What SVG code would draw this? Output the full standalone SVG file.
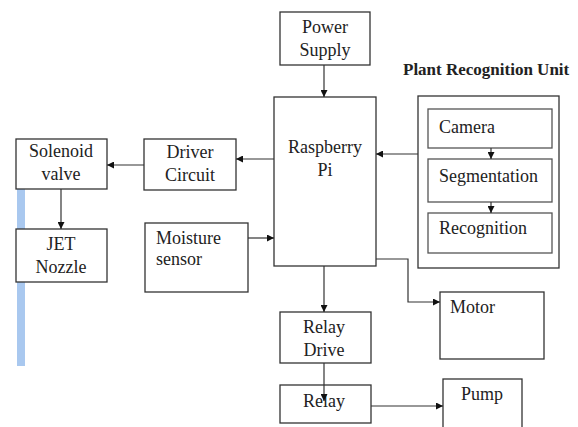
<svg xmlns="http://www.w3.org/2000/svg" width="578" height="427" viewBox="0 0 578 427">
<defs>
<marker id="ah" viewBox="0 0 10 10" refX="10" refY="5" markerWidth="7" markerHeight="7" markerUnits="userSpaceOnUse" orient="auto">
<path d="M0,0 L10,5 L0,10 z" fill="#111"/>
</marker>
</defs>
<style>
.box{fill:#fff;stroke:#333;stroke-width:1.3}
.t{font-family:'Liberation Serif','Times New Roman',Times,serif;font-size:18px;fill:#222}
.c{text-anchor:middle}
.ln{fill:none;stroke:#333;stroke-width:1.2}
.ttl{font-family:'Liberation Serif','Times New Roman',Times,serif;font-size:17px;font-weight:bold;fill:#222}
</style>
<rect x="0" y="0" width="578" height="427" fill="#fff"/>
<rect x="17" y="189" width="8" height="177" fill="#a9c8ef"/>

<g id="power-supply">
<rect class="box" x="280" y="12" width="90" height="53"/>
<text class="t c" x="325" y="33">Power</text>
<text class="t c" x="325" y="56">Supply</text>
</g>

<g id="raspberry-pi">
<rect class="box" x="274" y="97" width="102" height="169"/>
<text class="t c" x="325" y="153">Raspberry</text>
<text class="t c" x="325" y="176">Pi</text>
</g>

<g id="plant-recognition-unit">
<text class="ttl" x="403" y="75">Plant Recognition Unit</text>
<rect class="box" x="418" y="96" width="141" height="172" style="fill:none"/>
</g>

<g id="camera">
<rect class="box" x="428" y="109" width="124" height="39" style="stroke:#555"/>
<text class="t" x="439" y="133">Camera</text>
</g>

<g id="segmentation">
<rect class="box" x="428" y="159" width="124" height="43" style="stroke:#555"/>
<text class="t" x="439" y="182">Segmentation</text>
</g>

<g id="recognition">
<rect class="box" x="428" y="213" width="124" height="40" style="stroke:#555"/>
<text class="t" x="439" y="234">Recognition</text>
</g>

<g id="driver-circuit">
<rect class="box" x="144" y="139" width="92" height="51"/>
<text class="t c" x="190" y="158">Driver</text>
<text class="t c" x="190" y="181">Circuit</text>
</g>

<g id="solenoid-valve">
<rect class="box" x="16" y="139" width="91" height="50"/>
<text class="t c" x="61" y="157">Solenoid</text>
<text class="t c" x="61" y="180">valve</text>
</g>

<g id="jet-nozzle">
<rect class="box" x="16" y="229" width="91" height="53"/>
<text class="t c" x="61" y="250">JET</text>
<text class="t c" x="61" y="273">Nozzle</text>
</g>

<g id="moisture-sensor">
<rect class="box" x="145" y="223" width="103" height="69"/>
<text class="t" x="156" y="244">Moisture</text>
<text class="t" x="156" y="265">sensor</text>
</g>

<g id="motor">
<rect class="box" x="440" y="292" width="104" height="67"/>
<text class="t" x="450" y="313">Motor</text>
</g>

<g id="relay-drive">
<rect class="box" x="280" y="312" width="91" height="51"/>
<text class="t c" x="324" y="333">Relay</text>
<text class="t c" x="324" y="356">Drive</text>
</g>

<g id="relay">
<rect class="box" x="280" y="385" width="91" height="38"/>
<text class="t c" x="324" y="407">Relay</text>
</g>

<g id="pump">
<rect class="box" x="443" y="379" width="79" height="60"/>
<text class="t c" x="482" y="400">Pump</text>
</g>

<g id="connectors">
<line class="ln" x1="324" y1="65" x2="324" y2="97" marker-end="url(#ah)"/>
<line class="ln" x1="418" y1="154" x2="376" y2="154" marker-end="url(#ah)"/>
<line class="ln" x1="274" y1="159" x2="236" y2="159" marker-end="url(#ah)"/>
<line class="ln" x1="144" y1="165" x2="107" y2="165" marker-end="url(#ah)"/>
<line class="ln" x1="61" y1="189" x2="61" y2="229" marker-end="url(#ah)"/>
<line class="ln" x1="248" y1="238" x2="274" y2="238" marker-end="url(#ah)"/>
<polyline class="ln" points="376,259 408,259 408,302 440,302" marker-end="url(#ah)"/>
<line class="ln" x1="324" y1="266" x2="324" y2="312" marker-end="url(#ah)"/>
<line class="ln" x1="371" y1="406" x2="443" y2="406" marker-end="url(#ah)"/>
<line class="ln" x1="491" y1="148" x2="491" y2="159" marker-end="url(#ah)"/>
<line class="ln" x1="491" y1="202" x2="491" y2="213" marker-end="url(#ah)"/>
<line class="ln" x1="324" y1="363" x2="324" y2="401" marker-end="url(#ah)"/>
</g>
</svg>
